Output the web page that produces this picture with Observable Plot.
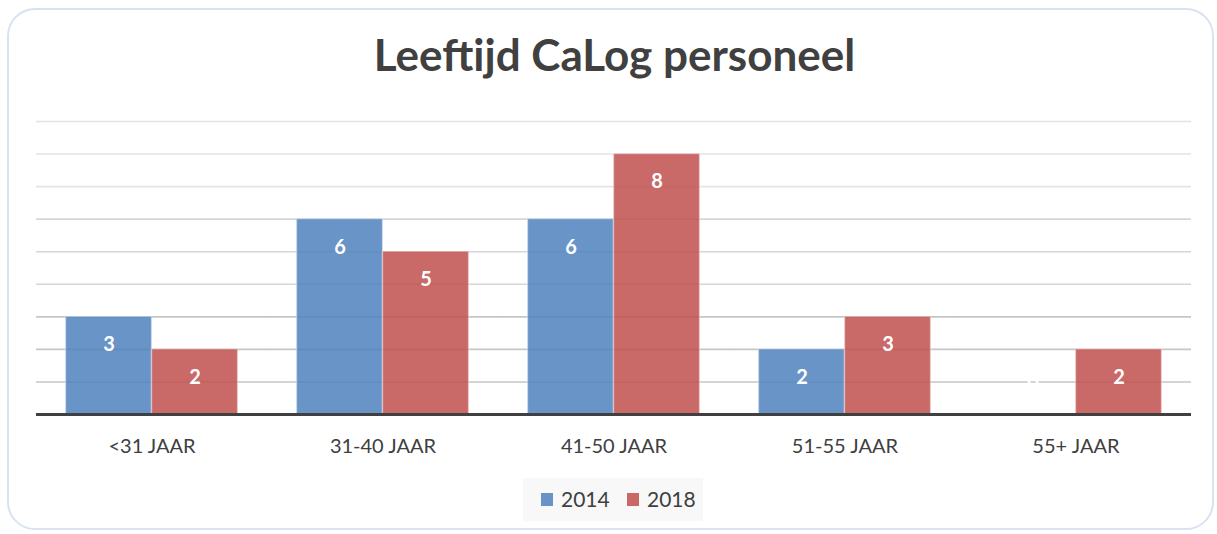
<!DOCTYPE html>
<html>
<head>
<meta charset="utf-8">
<script src="https://cdn.jsdelivr.net/npm/d3@7"></script>
<script src="https://cdn.jsdelivr.net/npm/@observablehq/plot@0.6"></script>
<style>
  html, body { margin: 0; padding: 0; background: #fff; }
  body { width: 1217px; height: 534px; position: relative; overflow: hidden; font-family: Lato, "Open Sans", sans-serif; }
  #frame { position: absolute; left: 7px; top: 8px; width: 1207px; height: 522px; border: 2px solid #d8e2f2; border-radius: 28px; box-sizing: border-box; }
  #title { position: absolute; left: 0; top: 28px; width: 1229px; text-align: center; font-size: 44px; font-weight: 700; color: #404040; }
  #chart { position: absolute; left: 0; top: 100px; }
  #legend { position: absolute; left: 523px; top: 478px; width: 180px; height: 43px; background: #f8f8f8; }
  .sw { position: absolute; top: 15px; width: 12px; height: 13px; }
  .lt { position: absolute; top: 9px; font-size: 21px; color: #404040; line-height: 24px; }
</style>
</head>
<body>
<div id="frame"></div>
<div id="title">Leeftijd CaLog personeel</div>
<div id="chart"></div>
<div id="legend"></div>
<script>
const categories = ["<31 JAAR", "31-40 JAAR", "41-50 JAAR", "51-55 JAAR", "55+ JAAR"];
const years = ["2014", "2018"];
const values2014 = [3, 6, 6, 2, 0];
const values2018 = [2, 5, 8, 3, 2];
const gridTicks = [1, 2, 3, 4, 5, 6, 7, 8, 9];
const colors = ["#4F81BD", "#C0504D"];

const rows = [];
categories.forEach((c, i) => {
  rows.push({category: c, year: years[0], value: values2014[i]});
  rows.push({category: c, year: years[1], value: values2018[i]});
});

const ext = -29.5;
const chart = Plot.plot({
  width: 1217,
  height: 370,
  marginLeft: 36,
  marginRight: 26,
  marginTop: 21,
  marginBottom: 56,
  style: {fontFamily: "Lato, 'Open Sans', sans-serif", fontSize: "20px", color: "#404040", background: "transparent", overflow: "visible"},
  fx: {domain: categories, paddingInner: 0.255, paddingOuter: 0.1277, round: false, axis: "bottom", label: null, tickSize: 0, tickPadding: 24},
  x: {domain: years, padding: 0, round: false, axis: null},
  y: {domain: [0, 9], axis: null},
  color: {domain: years, range: colors},
  marks: [
    Plot.ruleY(gridTicks.filter(t => t >= 7), {stroke: "#e3e3e3", strokeWidth: 1.6, insetLeft: ext, insetRight: ext}),
    Plot.ruleY(gridTicks.filter(t => t >= 4 && t < 7), {stroke: "#d6d6d6", strokeWidth: 1.6, insetLeft: ext, insetRight: ext}),
    Plot.ruleY(gridTicks.filter(t => t < 4), {stroke: "#c6c6c6", strokeWidth: 1.6, insetLeft: ext, insetRight: ext}),
    Plot.barY(rows.filter(d => d.value > 0), {fx: "category", x: "year", y: "value", fill: "year", fillOpacity: 0.85, stroke: "white", strokeOpacity: 0.35, strokeWidth: 1.5, inset: 0}),
    Plot.text(rows.filter(d => d.value > 0), {fx: "category", x: "year", y: "value", text: d => String(d.value), dy: 28, fill: "white", fontWeight: "bold", fontSize: 20}),
    Plot.text(rows.filter(d => d.value === 0), {fx: "category", x: "year", y: "value", text: d => String(d.value), dy: -32, fill: "white", fontWeight: "bold", fontSize: 20}),
    Plot.ruleY([0], {stroke: "#404040", strokeWidth: 3, insetLeft: ext, insetRight: ext})
  ]
});
document.getElementById("chart").appendChild(chart);

const legend = document.getElementById("legend");
const sx = [18, 104];
const tx = [38, 124];
years.forEach((y, i) => {
  const s = document.createElement("div");
  s.className = "sw";
  s.style.left = sx[i] + "px";
  s.style.background = colors[i];
  s.style.opacity = 0.85;
  legend.appendChild(s);
  const t = document.createElement("div");
  t.className = "lt";
  t.style.left = tx[i] + "px";
  t.textContent = y;
  legend.appendChild(t);
});
</script>
</body>
</html>
